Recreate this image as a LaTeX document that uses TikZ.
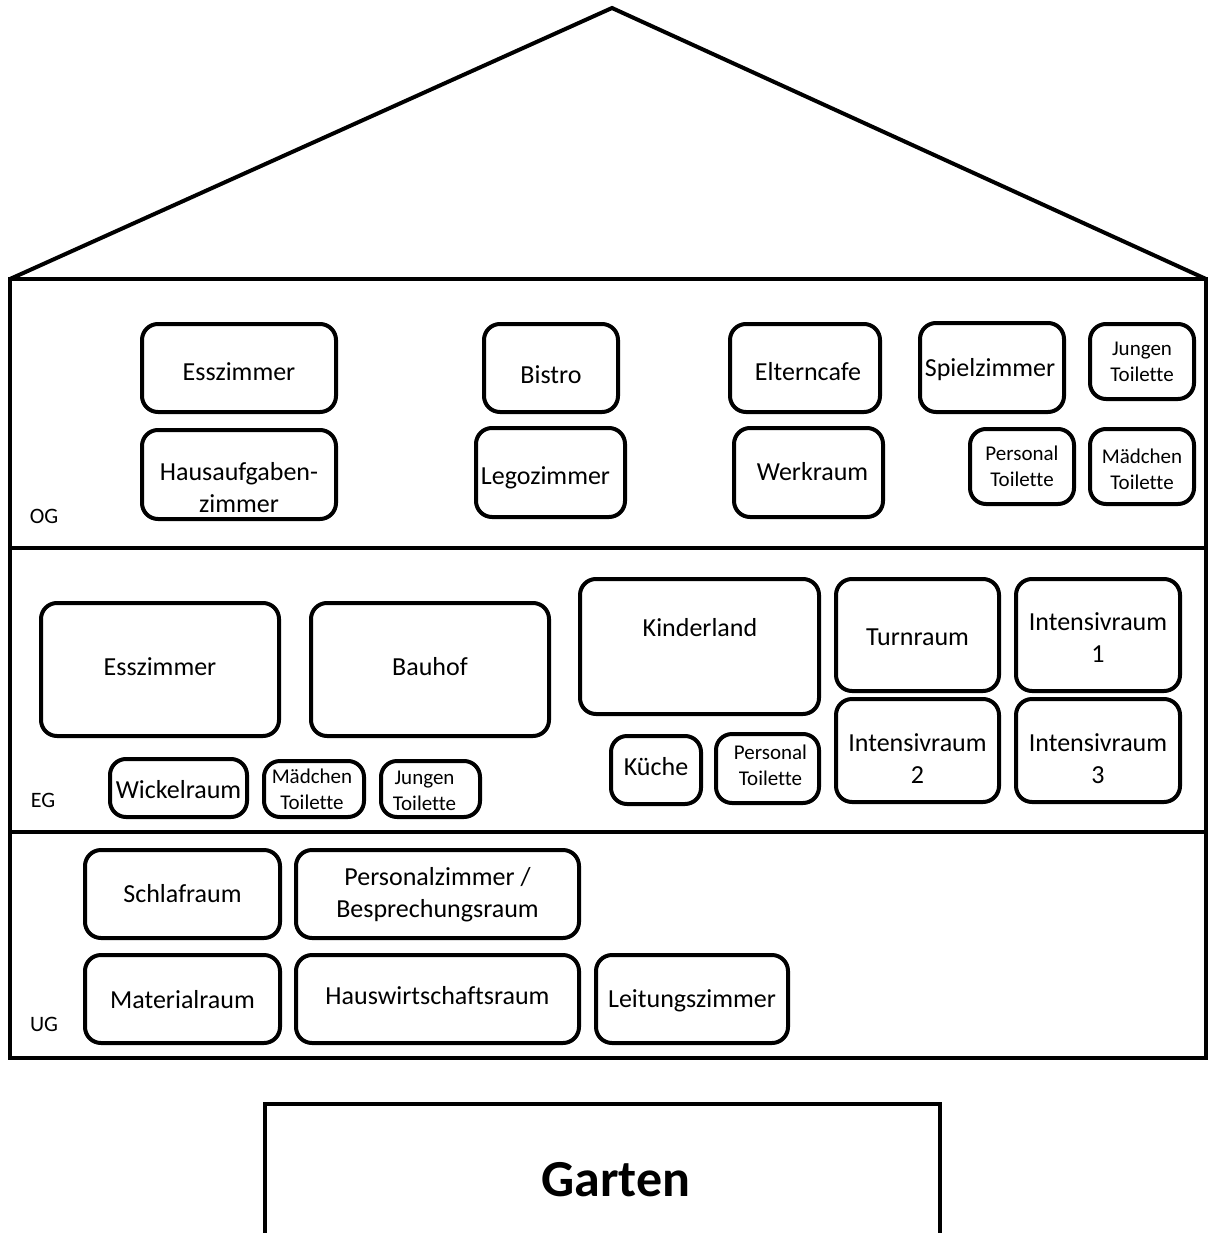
\documentclass[tikz,border=0pt]{standalone}
\usepackage{fontspec}
\setmainfont{Carlito}[Ligatures=NoCommon]
\begin{document}
\begin{tikzpicture}[x=1pt,y=-1pt,
  wall/.style={line width=4, line join=miter},
  room/.style={draw, line width=4, rounded corners=16, inner sep=0},
  rt/.style={inner sep=0, align=center, font=\fontsize{26}{32}\selectfont},
  srt/.style={inner sep=0, align=center, font=\fontsize{21}{26}\selectfont},
  floorlbl/.style={font=\fontsize{22}{26}\selectfont, inner sep=0},
  gartenlbl/.style={font=\fontsize{52}{60}\selectfont\bfseries, inner sep=0}]
\useasboundingbox (0,0) rectangle (1209,1233);
% house
\draw[wall] (10,279) rectangle (1206,1058);
\draw[wall] (10,548) -- (1206,548);
\draw[wall] (10,832) -- (1206,832);
\draw[wall] (10,279) -- (612,8) -- (1206,279);
% OG
\node[room, minimum width=194, minimum height=88] (ogess) at (239,368) {};
\node[rt] at ([shift={(0,4)}]ogess.center) {Esszimmer};
\node[room, minimum width=194, minimum height=89] (oghaus) at (239,474.5) {};
\node[rt] at ([shift={(0,13)}]oghaus.center) {Hausaufgaben-\\zimmer};
\node[room, minimum width=134, minimum height=88] (ogbistro) at (551,368) {};
\node[rt] at ([shift={(0,7)}]ogbistro.center) {Bistro};
\node[room, minimum width=149, minimum height=89] (oglego) at (550.5,472.5) {};
\node[rt] at ([shift={(-5,5)}]oglego.center) {Legozimmer};
\node[room, minimum width=150, minimum height=88] (ogeltern) at (805,368) {};
\node[rt] at ([shift={(3,4)}]ogeltern.center) {Elterncafe};
\node[room, minimum width=149, minimum height=89] (ogwerk) at (808.5,472.5) {};
\node[rt] at ([shift={(4,-1)}]ogwerk.center) {Werkraum};
\node[room, minimum width=144, minimum height=89] (ogspiel) at (992,367.5) {};
\node[rt] at ([shift={(-2,2)}]ogspiel.center) {Spielzimmer};
\node[room, minimum width=104, minimum height=75] (ogjungen) at (1142,361.5) {};
\node[srt] at (ogjungen.center) {Jungen\\Toilette};
\node[room, minimum width=104, minimum height=75] (ogpers) at (1022,466.5) {};
\node[srt] at (ogpers.center) {Personal\\Toilette};
\node[room, minimum width=104, minimum height=75] (ogmaed) at (1142,466.5) {};
\node[srt] at ([shift={(0,3)}]ogmaed.center) {M\"adchen\\Toilette};
\node[floorlbl] (og) at (44,516) {OG};
% EG
\node[room, minimum width=238, minimum height=133] (egess) at (160,669.5) {};
\node[rt] at ([shift={(0,-3)}]egess.center) {Esszimmer};
\node[room, minimum width=238, minimum height=133] (egbau) at (430,669.5) {};
\node[rt] at ([shift={(0,-3)}]egbau.center) {Bauhof};
\node[room, minimum width=239, minimum height=135] (egkinder) at (699.5,646.5) {};
\node[rt] at ([shift={(0.5,-19)}]egkinder.center) {Kinderland};
\node[room, minimum width=163, minimum height=112] (egturn) at (917.5,635) {};
\node[rt] at ([shift={(0,2)}]egturn.center) {Turnraum};
\node[room, minimum width=164, minimum height=112] (egint1) at (1098,635) {};
\node[rt] at ([shift={(0,3)}]egint1.center) {Intensivraum\\1};
\node[room, minimum width=90, minimum height=68] (egkueche) at (656,770) {};
\node[rt] at ([shift={(0,-3)}]egkueche.center) {K\"uche};
\node[room, minimum width=103, minimum height=69] (egpers) at (767.5,768.5) {};
\node[srt] at ([shift={(3,-3)}]egpers.center) {Personal\\Toilette};
\node[room, minimum width=163, minimum height=103] (egint2) at (917.5,750.5) {};
\node[rt] at ([shift={(0,8)}]egint2.center) {Intensivraum\\2};
\node[room, minimum width=164, minimum height=103] (egint3) at (1098,750.5) {};
\node[rt] at ([shift={(0,8)}]egint3.center) {Intensivraum\\3};
\node[room, minimum width=137, minimum height=58] (egwickel) at (178.5,788) {};
\node[rt] at ([shift={(0,2)}]egwickel.center) {Wickelraum};
\node[room, minimum width=100, minimum height=56] (egmaed) at (314,789) {};
\node[srt] at ([shift={(-2,0)}]egmaed.center) {M\"adchen\\Toilette};
\node[room, minimum width=99, minimum height=56] (egjungen) at (430.5,789) {};
\node[srt] at ([shift={(-6,2)}]egjungen.center) {Jungen\\Toilette};
\node[floorlbl] (eg) at (43,800) {EG};
% UG
\node[room, minimum width=195, minimum height=88] (ugschlaf) at (182.5,894) {};
\node[rt] at (ugschlaf.center) {Schlafraum};
\node[room, minimum width=283, minimum height=88] (ugperso) at (437.5,894) {};
\node[rt] at ([shift={(0,1)}]ugperso.center) {Personalzimmer /\\Besprechungsraum};
\node[room, minimum width=195, minimum height=88] (ugmat) at (182.5,999) {};
\node[rt] at ([shift={(0,1)}]ugmat.center) {Materialraum};
\node[room, minimum width=283, minimum height=88] (ughaus) at (437.5,999) {};
\node[rt] at ([shift={(0,-3)}]ughaus.center) {Hauswirtschaftsraum};
\node[room, minimum width=192, minimum height=88] (ugleit) at (692,999) {};
\node[rt] at ([shift={(0,2)}]ugleit.center) {Leitungszimmer};
\node[floorlbl] (ug) at (44,1024) {UG};
% Garten
\draw[wall] (265,1233) -- (265,1104) -- (940,1104) -- (940,1233);
\node[gartenlbl] (garten) at (616,1180) {Garten};
\end{tikzpicture}
\end{document}
